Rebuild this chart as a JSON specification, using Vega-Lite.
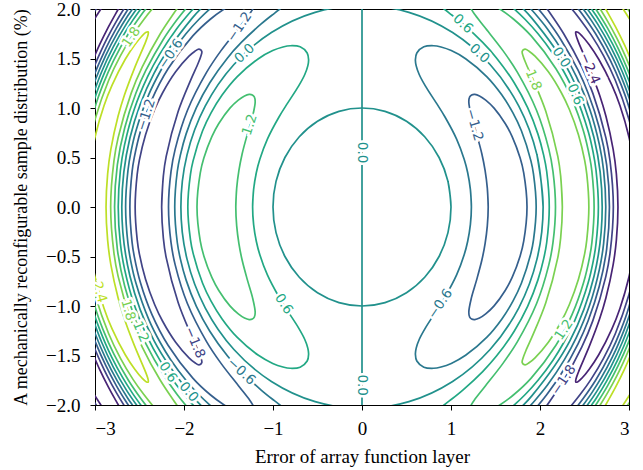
{
"$schema":"https://vega.github.io/schema/vega-lite/v6.json",
"width":534,"height":396,
"autosize":{"type":"none"},
"padding":{"left":95,"top":9,"right":14,"bottom":65},
"background":"white",
"config":{"view":{"stroke":"black","strokeWidth":1}},
"datasets":{
"loops":[
{"c":"z1","l":0,"x":1,"y":0},{"c":"z1","l":0,"x":0.966,"y":0.259},{"c":"z1","l":0,"x":0.866,"y":0.5},{"c":"z1","l":0,"x":0.707,"y":0.707},{"c":"z1","l":0,"x":0.5,"y":0.866},{"c":"z1","l":0,"x":0.259,"y":0.966},{"c":"z1","l":0,"x":0,"y":1},{"c":"z1","l":0,"x":-0.259,"y":0.966},{"c":"z1","l":0,"x":-0.5,"y":0.866},{"c":"z1","l":0,"x":-0.707,"y":0.707},{"c":"z1","l":0,"x":-0.866,"y":0.5},{"c":"z1","l":0,"x":-0.966,"y":0.259},{"c":"z1","l":0,"x":-1,"y":0},{"c":"z1","l":0,"x":-0.966,"y":-0.259},{"c":"z1","l":0,"x":-0.866,"y":-0.5},{"c":"z1","l":0,"x":-0.707,"y":-0.707},{"c":"z1","l":0,"x":-0.5,"y":-0.866},{"c":"z1","l":0,"x":-0.259,"y":-0.966},{"c":"z1","l":0,"x":0,"y":-1},{"c":"z1","l":0,"x":0.259,"y":-0.966},{"c":"z1","l":0,"x":0.5,"y":-0.866},{"c":"z1","l":0,"x":0.707,"y":-0.707},{"c":"z1","l":0,"x":0.866,"y":-0.5},{"c":"z1","l":0,"x":0.966,"y":-0.259},{"c":"z1","l":0,"x":1,"y":0},{"c":"z1","l":0,"x":0.966,"y":0.259},
{"c":"z2","l":0,"x":2.035,"y":0},{"c":"z2","l":0,"x":1.966,"y":0.527},{"c":"z2","l":0,"x":1.762,"y":1.018},{"c":"z2","l":0,"x":1.439,"y":1.439},{"c":"z2","l":0,"x":1.018,"y":1.762},{"c":"z2","l":0,"x":0.527,"y":1.966},{"c":"z2","l":0,"x":0,"y":2.035},{"c":"z2","l":0,"x":-0.527,"y":1.966},{"c":"z2","l":0,"x":-1.018,"y":1.762},{"c":"z2","l":0,"x":-1.439,"y":1.439},{"c":"z2","l":0,"x":-1.762,"y":1.018},{"c":"z2","l":0,"x":-1.966,"y":0.527},{"c":"z2","l":0,"x":-2.035,"y":0},{"c":"z2","l":0,"x":-1.966,"y":-0.527},{"c":"z2","l":0,"x":-1.762,"y":-1.018},{"c":"z2","l":0,"x":-1.439,"y":-1.439},{"c":"z2","l":0,"x":-1.018,"y":-1.762},{"c":"z2","l":0,"x":-0.527,"y":-1.966},{"c":"z2","l":0,"x":0,"y":-2.035},{"c":"z2","l":0,"x":0.527,"y":-1.966},{"c":"z2","l":0,"x":1.018,"y":-1.762},{"c":"z2","l":0,"x":1.439,"y":-1.439},{"c":"z2","l":0,"x":1.762,"y":-1.018},{"c":"z2","l":0,"x":1.966,"y":-0.527},{"c":"z2","l":0,"x":2.035,"y":0},{"c":"z2","l":0,"x":1.966,"y":0.527},
{"c":"A1R","l":-0.6,"x":1.229,"y":0},{"c":"A1R","l":-0.6,"x":1.218,"y":0.175},{"c":"A1R","l":-0.6,"x":1.187,"y":0.348},{"c":"A1R","l":-0.6,"x":1.148,"y":0.482},{"c":"A1R","l":-0.6,"x":1.063,"y":0.686},{"c":"A1R","l":-0.6,"x":0.931,"y":0.912},{"c":"A1R","l":-0.6,"x":0.836,"y":1.049},{"c":"A1R","l":-0.6,"x":0.713,"y":1.221},{"c":"A1R","l":-0.6,"x":0.644,"y":1.336},{"c":"A1R","l":-0.6,"x":0.609,"y":1.425},{"c":"A1R","l":-0.6,"x":0.6,"y":1.487},{"c":"A1R","l":-0.6,"x":0.616,"y":1.556},{"c":"A1R","l":-0.6,"x":0.695,"y":1.618},{"c":"A1R","l":-0.6,"x":0.805,"y":1.629},{"c":"A1R","l":-0.6,"x":0.888,"y":1.616},{"c":"A1R","l":-0.6,"x":1.003,"y":1.58},{"c":"A1R","l":-0.6,"x":1.164,"y":1.498},{"c":"A1R","l":-0.6,"x":1.404,"y":1.315},{"c":"A1R","l":-0.6,"x":1.572,"y":1.131},{"c":"A1R","l":-0.6,"x":1.696,"y":0.951},{"c":"A1R","l":-0.6,"x":1.791,"y":0.77},{"c":"A1R","l":-0.6,"x":1.898,"y":0.466},{"c":"A1R","l":-0.6,"x":1.927,"y":0.332},{"c":"A1R","l":-0.6,"x":1.957,"y":0},{"c":"A1R","l":-0.6,"x":1.927,"y":-0.332},{"c":"A1R","l":-0.6,"x":1.898,"y":-0.466},{"c":"A1R","l":-0.6,"x":1.791,"y":-0.77},{"c":"A1R","l":-0.6,"x":1.696,"y":-0.951},{"c":"A1R","l":-0.6,"x":1.572,"y":-1.131},{"c":"A1R","l":-0.6,"x":1.404,"y":-1.315},{"c":"A1R","l":-0.6,"x":1.164,"y":-1.498},{"c":"A1R","l":-0.6,"x":1.003,"y":-1.58},{"c":"A1R","l":-0.6,"x":0.888,"y":-1.616},{"c":"A1R","l":-0.6,"x":0.805,"y":-1.629},{"c":"A1R","l":-0.6,"x":0.695,"y":-1.618},{"c":"A1R","l":-0.6,"x":0.616,"y":-1.556},{"c":"A1R","l":-0.6,"x":0.6,"y":-1.487},{"c":"A1R","l":-0.6,"x":0.609,"y":-1.425},{"c":"A1R","l":-0.6,"x":0.644,"y":-1.336},{"c":"A1R","l":-0.6,"x":0.713,"y":-1.221},{"c":"A1R","l":-0.6,"x":0.836,"y":-1.049},{"c":"A1R","l":-0.6,"x":0.931,"y":-0.912},{"c":"A1R","l":-0.6,"x":1.063,"y":-0.686},{"c":"A1R","l":-0.6,"x":1.148,"y":-0.482},{"c":"A1R","l":-0.6,"x":1.187,"y":-0.348},{"c":"A1R","l":-0.6,"x":1.218,"y":-0.175},{"c":"A1R","l":-0.6,"x":1.229,"y":0},{"c":"A1R","l":-0.6,"x":1.218,"y":0.175},
{"c":"A1L","l":0.6,"x":-1.229,"y":0},{"c":"A1L","l":0.6,"x":-1.218,"y":0.175},{"c":"A1L","l":0.6,"x":-1.187,"y":0.348},{"c":"A1L","l":0.6,"x":-1.148,"y":0.482},{"c":"A1L","l":0.6,"x":-1.063,"y":0.686},{"c":"A1L","l":0.6,"x":-0.931,"y":0.912},{"c":"A1L","l":0.6,"x":-0.836,"y":1.049},{"c":"A1L","l":0.6,"x":-0.713,"y":1.221},{"c":"A1L","l":0.6,"x":-0.644,"y":1.336},{"c":"A1L","l":0.6,"x":-0.609,"y":1.425},{"c":"A1L","l":0.6,"x":-0.6,"y":1.487},{"c":"A1L","l":0.6,"x":-0.616,"y":1.556},{"c":"A1L","l":0.6,"x":-0.695,"y":1.618},{"c":"A1L","l":0.6,"x":-0.805,"y":1.629},{"c":"A1L","l":0.6,"x":-0.888,"y":1.616},{"c":"A1L","l":0.6,"x":-1.003,"y":1.58},{"c":"A1L","l":0.6,"x":-1.164,"y":1.498},{"c":"A1L","l":0.6,"x":-1.404,"y":1.315},{"c":"A1L","l":0.6,"x":-1.572,"y":1.131},{"c":"A1L","l":0.6,"x":-1.696,"y":0.951},{"c":"A1L","l":0.6,"x":-1.791,"y":0.77},{"c":"A1L","l":0.6,"x":-1.898,"y":0.466},{"c":"A1L","l":0.6,"x":-1.927,"y":0.332},{"c":"A1L","l":0.6,"x":-1.957,"y":0},{"c":"A1L","l":0.6,"x":-1.927,"y":-0.332},{"c":"A1L","l":0.6,"x":-1.898,"y":-0.466},{"c":"A1L","l":0.6,"x":-1.791,"y":-0.77},{"c":"A1L","l":0.6,"x":-1.696,"y":-0.951},{"c":"A1L","l":0.6,"x":-1.572,"y":-1.131},{"c":"A1L","l":0.6,"x":-1.404,"y":-1.315},{"c":"A1L","l":0.6,"x":-1.164,"y":-1.498},{"c":"A1L","l":0.6,"x":-1.003,"y":-1.58},{"c":"A1L","l":0.6,"x":-0.888,"y":-1.616},{"c":"A1L","l":0.6,"x":-0.805,"y":-1.629},{"c":"A1L","l":0.6,"x":-0.695,"y":-1.618},{"c":"A1L","l":0.6,"x":-0.616,"y":-1.556},{"c":"A1L","l":0.6,"x":-0.6,"y":-1.487},{"c":"A1L","l":0.6,"x":-0.609,"y":-1.425},{"c":"A1L","l":0.6,"x":-0.644,"y":-1.336},{"c":"A1L","l":0.6,"x":-0.713,"y":-1.221},{"c":"A1L","l":0.6,"x":-0.836,"y":-1.049},{"c":"A1L","l":0.6,"x":-0.931,"y":-0.912},{"c":"A1L","l":0.6,"x":-1.063,"y":-0.686},{"c":"A1L","l":0.6,"x":-1.148,"y":-0.482},{"c":"A1L","l":0.6,"x":-1.187,"y":-0.348},{"c":"A1L","l":0.6,"x":-1.218,"y":-0.175},{"c":"A1L","l":0.6,"x":-1.229,"y":0},{"c":"A1L","l":0.6,"x":-1.218,"y":0.175},
{"c":"A2R","l":-1.2,"x":1.418,"y":0},{"c":"A2R","l":-1.2,"x":1.408,"y":0.19},{"c":"A2R","l":-1.2,"x":1.383,"y":0.369},{"c":"A2R","l":-1.2,"x":1.347,"y":0.536},{"c":"A2R","l":-1.2,"x":1.288,"y":0.736},{"c":"A2R","l":-1.2,"x":1.23,"y":0.915},{"c":"A2R","l":-1.2,"x":1.2,"y":1.063},{"c":"A2R","l":-1.2,"x":1.21,"y":1.112},{"c":"A2R","l":-1.2,"x":1.232,"y":1.132},{"c":"A2R","l":-1.2,"x":1.268,"y":1.137},{"c":"A2R","l":-1.2,"x":1.32,"y":1.122},{"c":"A2R","l":-1.2,"x":1.39,"y":1.08},{"c":"A2R","l":-1.2,"x":1.484,"y":0.999},{"c":"A2R","l":-1.2,"x":1.609,"y":0.843},{"c":"A2R","l":-1.2,"x":1.687,"y":0.711},{"c":"A2R","l":-1.2,"x":1.777,"y":0.494},{"c":"A2R","l":-1.2,"x":1.817,"y":0.345},{"c":"A2R","l":-1.2,"x":1.854,"y":0},{"c":"A2R","l":-1.2,"x":1.817,"y":-0.345},{"c":"A2R","l":-1.2,"x":1.777,"y":-0.494},{"c":"A2R","l":-1.2,"x":1.687,"y":-0.711},{"c":"A2R","l":-1.2,"x":1.609,"y":-0.843},{"c":"A2R","l":-1.2,"x":1.484,"y":-0.999},{"c":"A2R","l":-1.2,"x":1.39,"y":-1.08},{"c":"A2R","l":-1.2,"x":1.32,"y":-1.122},{"c":"A2R","l":-1.2,"x":1.268,"y":-1.137},{"c":"A2R","l":-1.2,"x":1.232,"y":-1.132},{"c":"A2R","l":-1.2,"x":1.21,"y":-1.112},{"c":"A2R","l":-1.2,"x":1.2,"y":-1.063},{"c":"A2R","l":-1.2,"x":1.23,"y":-0.915},{"c":"A2R","l":-1.2,"x":1.288,"y":-0.736},{"c":"A2R","l":-1.2,"x":1.347,"y":-0.536},{"c":"A2R","l":-1.2,"x":1.383,"y":-0.369},{"c":"A2R","l":-1.2,"x":1.408,"y":-0.19},{"c":"A2R","l":-1.2,"x":1.418,"y":0},{"c":"A2R","l":-1.2,"x":1.408,"y":0.19},
{"c":"A2L","l":1.2,"x":-1.418,"y":0},{"c":"A2L","l":1.2,"x":-1.408,"y":0.19},{"c":"A2L","l":1.2,"x":-1.383,"y":0.369},{"c":"A2L","l":1.2,"x":-1.347,"y":0.536},{"c":"A2L","l":1.2,"x":-1.288,"y":0.736},{"c":"A2L","l":1.2,"x":-1.23,"y":0.915},{"c":"A2L","l":1.2,"x":-1.2,"y":1.063},{"c":"A2L","l":1.2,"x":-1.21,"y":1.112},{"c":"A2L","l":1.2,"x":-1.232,"y":1.132},{"c":"A2L","l":1.2,"x":-1.268,"y":1.137},{"c":"A2L","l":1.2,"x":-1.32,"y":1.122},{"c":"A2L","l":1.2,"x":-1.39,"y":1.08},{"c":"A2L","l":1.2,"x":-1.484,"y":0.999},{"c":"A2L","l":1.2,"x":-1.609,"y":0.843},{"c":"A2L","l":1.2,"x":-1.687,"y":0.711},{"c":"A2L","l":1.2,"x":-1.777,"y":0.494},{"c":"A2L","l":1.2,"x":-1.817,"y":0.345},{"c":"A2L","l":1.2,"x":-1.854,"y":0},{"c":"A2L","l":1.2,"x":-1.817,"y":-0.345},{"c":"A2L","l":1.2,"x":-1.777,"y":-0.494},{"c":"A2L","l":1.2,"x":-1.687,"y":-0.711},{"c":"A2L","l":1.2,"x":-1.609,"y":-0.843},{"c":"A2L","l":1.2,"x":-1.484,"y":-0.999},{"c":"A2L","l":1.2,"x":-1.39,"y":-1.08},{"c":"A2L","l":1.2,"x":-1.32,"y":-1.122},{"c":"A2L","l":1.2,"x":-1.268,"y":-1.137},{"c":"A2L","l":1.2,"x":-1.232,"y":-1.132},{"c":"A2L","l":1.2,"x":-1.21,"y":-1.112},{"c":"A2L","l":1.2,"x":-1.2,"y":-1.063},{"c":"A2L","l":1.2,"x":-1.23,"y":-0.915},{"c":"A2L","l":1.2,"x":-1.288,"y":-0.736},{"c":"A2L","l":1.2,"x":-1.347,"y":-0.536},{"c":"A2L","l":1.2,"x":-1.383,"y":-0.369},{"c":"A2L","l":1.2,"x":-1.408,"y":-0.19},{"c":"A2L","l":1.2,"x":-1.418,"y":0},{"c":"A2L","l":1.2,"x":-1.408,"y":0.19},
{"c":"B3R","l":1.8,"x":2.251,"y":0},{"c":"B3R","l":1.8,"x":2.232,"y":0.314},{"c":"B3R","l":1.8,"x":2.2,"y":0.511},{"c":"B3R","l":1.8,"x":2.065,"y":0.967},{"c":"B3R","l":1.8,"x":1.925,"y":1.282},{"c":"B3R","l":1.8,"x":1.841,"y":1.452},{"c":"B3R","l":1.8,"x":1.811,"y":1.523},{"c":"B3R","l":1.8,"x":1.8,"y":1.572},{"c":"B3R","l":1.8,"x":1.832,"y":1.595},{"c":"B3R","l":1.8,"x":1.877,"y":1.574},{"c":"B3R","l":1.8,"x":1.944,"y":1.523},{"c":"B3R","l":1.8,"x":2.096,"y":1.363},{"c":"B3R","l":1.8,"x":2.24,"y":1.154},{"c":"B3R","l":1.8,"x":2.329,"y":0.987},{"c":"B3R","l":1.8,"x":2.432,"y":0.73},{"c":"B3R","l":1.8,"x":2.502,"y":0.471},{"c":"B3R","l":1.8,"x":2.526,"y":0.329},{"c":"B3R","l":1.8,"x":2.549,"y":0},{"c":"B3R","l":1.8,"x":2.526,"y":-0.329},{"c":"B3R","l":1.8,"x":2.502,"y":-0.471},{"c":"B3R","l":1.8,"x":2.432,"y":-0.73},{"c":"B3R","l":1.8,"x":2.329,"y":-0.987},{"c":"B3R","l":1.8,"x":2.24,"y":-1.154},{"c":"B3R","l":1.8,"x":2.096,"y":-1.363},{"c":"B3R","l":1.8,"x":1.944,"y":-1.523},{"c":"B3R","l":1.8,"x":1.877,"y":-1.574},{"c":"B3R","l":1.8,"x":1.832,"y":-1.595},{"c":"B3R","l":1.8,"x":1.8,"y":-1.572},{"c":"B3R","l":1.8,"x":1.811,"y":-1.523},{"c":"B3R","l":1.8,"x":1.841,"y":-1.452},{"c":"B3R","l":1.8,"x":1.925,"y":-1.282},{"c":"B3R","l":1.8,"x":2.065,"y":-0.967},{"c":"B3R","l":1.8,"x":2.2,"y":-0.511},{"c":"B3R","l":1.8,"x":2.232,"y":-0.314},{"c":"B3R","l":1.8,"x":2.251,"y":0},{"c":"B3R","l":1.8,"x":2.232,"y":0.314},
{"c":"B3L","l":-1.8,"x":-2.251,"y":0},{"c":"B3L","l":-1.8,"x":-2.232,"y":0.314},{"c":"B3L","l":-1.8,"x":-2.2,"y":0.511},{"c":"B3L","l":-1.8,"x":-2.065,"y":0.967},{"c":"B3L","l":-1.8,"x":-1.925,"y":1.282},{"c":"B3L","l":-1.8,"x":-1.841,"y":1.452},{"c":"B3L","l":-1.8,"x":-1.811,"y":1.523},{"c":"B3L","l":-1.8,"x":-1.8,"y":1.572},{"c":"B3L","l":-1.8,"x":-1.832,"y":1.595},{"c":"B3L","l":-1.8,"x":-1.877,"y":1.574},{"c":"B3L","l":-1.8,"x":-1.944,"y":1.523},{"c":"B3L","l":-1.8,"x":-2.096,"y":1.363},{"c":"B3L","l":-1.8,"x":-2.24,"y":1.154},{"c":"B3L","l":-1.8,"x":-2.329,"y":0.987},{"c":"B3L","l":-1.8,"x":-2.432,"y":0.73},{"c":"B3L","l":-1.8,"x":-2.502,"y":0.471},{"c":"B3L","l":-1.8,"x":-2.526,"y":0.329},{"c":"B3L","l":-1.8,"x":-2.549,"y":0},{"c":"B3L","l":-1.8,"x":-2.526,"y":-0.329},{"c":"B3L","l":-1.8,"x":-2.502,"y":-0.471},{"c":"B3L","l":-1.8,"x":-2.432,"y":-0.73},{"c":"B3L","l":-1.8,"x":-2.329,"y":-0.987},{"c":"B3L","l":-1.8,"x":-2.24,"y":-1.154},{"c":"B3L","l":-1.8,"x":-2.096,"y":-1.363},{"c":"B3L","l":-1.8,"x":-1.944,"y":-1.523},{"c":"B3L","l":-1.8,"x":-1.877,"y":-1.574},{"c":"B3L","l":-1.8,"x":-1.832,"y":-1.595},{"c":"B3L","l":-1.8,"x":-1.8,"y":-1.572},{"c":"B3L","l":-1.8,"x":-1.811,"y":-1.523},{"c":"B3L","l":-1.8,"x":-1.841,"y":-1.452},{"c":"B3L","l":-1.8,"x":-1.925,"y":-1.282},{"c":"B3L","l":-1.8,"x":-2.065,"y":-0.967},{"c":"B3L","l":-1.8,"x":-2.2,"y":-0.511},{"c":"B3L","l":-1.8,"x":-2.232,"y":-0.314},{"c":"B3L","l":-1.8,"x":-2.251,"y":0},{"c":"B3L","l":-1.8,"x":-2.232,"y":0.314}
],
"paths":[
{"c":"z0","l":0,"x":0,"y":-2.1},{"c":"z0","l":0,"x":0,"y":2.1},
{"c":"z3R","l":0,"x":1.735,"y":2.067},{"c":"z3R","l":0,"x":1.908,"y":1.908},{"c":"z3R","l":0,"x":2.337,"y":1.35},{"c":"z3R","l":0,"x":2.607,"y":0.699},{"c":"z3R","l":0,"x":2.699,"y":0},{"c":"z3R","l":0,"x":2.607,"y":-0.699},{"c":"z3R","l":0,"x":2.337,"y":-1.35},{"c":"z3R","l":0,"x":1.908,"y":-1.908},{"c":"z3R","l":0,"x":1.735,"y":-2.067},
{"c":"z3L","l":0,"x":-1.735,"y":2.067},{"c":"z3L","l":0,"x":-1.908,"y":1.908},{"c":"z3L","l":0,"x":-2.337,"y":1.35},{"c":"z3L","l":0,"x":-2.607,"y":0.699},{"c":"z3L","l":0,"x":-2.699,"y":0},{"c":"z3L","l":0,"x":-2.607,"y":-0.699},{"c":"z3L","l":0,"x":-2.337,"y":-1.35},{"c":"z3L","l":0,"x":-1.908,"y":-1.908},{"c":"z3L","l":0,"x":-1.735,"y":-2.067},
{"c":"z4RT","l":0,"x":2.473,"y":2.075},{"c":"z4RT","l":0,"x":2.645,"y":1.852},{"c":"z4RT","l":0,"x":2.796,"y":1.614},{"c":"z4RT","l":0,"x":2.926,"y":1.364},{"c":"z4RT","l":0,"x":3.034,"y":1.104},
{"c":"z4RB","l":0,"x":2.473,"y":-2.075},{"c":"z4RB","l":0,"x":2.645,"y":-1.852},{"c":"z4RB","l":0,"x":2.796,"y":-1.614},{"c":"z4RB","l":0,"x":2.926,"y":-1.364},{"c":"z4RB","l":0,"x":3.034,"y":-1.104},
{"c":"z4LT","l":0,"x":-2.473,"y":2.075},{"c":"z4LT","l":0,"x":-2.645,"y":1.852},{"c":"z4LT","l":0,"x":-2.796,"y":1.614},{"c":"z4LT","l":0,"x":-2.926,"y":1.364},{"c":"z4LT","l":0,"x":-3.034,"y":1.104},
{"c":"z4LB","l":0,"x":-2.473,"y":-2.075},{"c":"z4LB","l":0,"x":-2.645,"y":-1.852},{"c":"z4LB","l":0,"x":-2.796,"y":-1.614},{"c":"z4LB","l":0,"x":-2.926,"y":-1.364},{"c":"z4LB","l":0,"x":-3.034,"y":-1.104},
{"c":"B1aR","l":0.6,"x":0.873,"y":-2.034},{"c":"B1aR","l":0.6,"x":0.981,"y":-1.959},{"c":"B1aR","l":0.6,"x":1.133,"y":-1.849},{"c":"B1aR","l":0.6,"x":1.356,"y":-1.662},{"c":"B1aR","l":0.6,"x":1.511,"y":-1.506},{"c":"B1aR","l":0.6,"x":1.71,"y":-1.255},{"c":"B1aR","l":0.6,"x":1.861,"y":-1.004},{"c":"B1aR","l":0.6,"x":1.977,"y":-0.736},{"c":"B1aR","l":0.6,"x":2.041,"y":-0.524},{"c":"B1aR","l":0.6,"x":2.075,"y":-0.361},{"c":"B1aR","l":0.6,"x":2.104,"y":0},{"c":"B1aR","l":0.6,"x":2.075,"y":0.361},{"c":"B1aR","l":0.6,"x":2.041,"y":0.524},{"c":"B1aR","l":0.6,"x":1.977,"y":0.736},{"c":"B1aR","l":0.6,"x":1.861,"y":1.004},{"c":"B1aR","l":0.6,"x":1.71,"y":1.255},{"c":"B1aR","l":0.6,"x":1.511,"y":1.506},{"c":"B1aR","l":0.6,"x":1.356,"y":1.662},{"c":"B1aR","l":0.6,"x":1.133,"y":1.849},{"c":"B1aR","l":0.6,"x":0.981,"y":1.959},{"c":"B1aR","l":0.6,"x":0.873,"y":2.034},
{"c":"B1aL","l":-0.6,"x":-0.873,"y":-2.034},{"c":"B1aL","l":-0.6,"x":-0.981,"y":-1.959},{"c":"B1aL","l":-0.6,"x":-1.133,"y":-1.849},{"c":"B1aL","l":-0.6,"x":-1.356,"y":-1.662},{"c":"B1aL","l":-0.6,"x":-1.511,"y":-1.506},{"c":"B1aL","l":-0.6,"x":-1.71,"y":-1.255},{"c":"B1aL","l":-0.6,"x":-1.861,"y":-1.004},{"c":"B1aL","l":-0.6,"x":-1.977,"y":-0.736},{"c":"B1aL","l":-0.6,"x":-2.041,"y":-0.524},{"c":"B1aL","l":-0.6,"x":-2.075,"y":-0.361},{"c":"B1aL","l":-0.6,"x":-2.104,"y":0},{"c":"B1aL","l":-0.6,"x":-2.075,"y":0.361},{"c":"B1aL","l":-0.6,"x":-2.041,"y":0.524},{"c":"B1aL","l":-0.6,"x":-1.977,"y":0.736},{"c":"B1aL","l":-0.6,"x":-1.861,"y":1.004},{"c":"B1aL","l":-0.6,"x":-1.71,"y":1.255},{"c":"B1aL","l":-0.6,"x":-1.511,"y":1.506},{"c":"B1aL","l":-0.6,"x":-1.356,"y":1.662},{"c":"B1aL","l":-0.6,"x":-1.133,"y":1.849},{"c":"B1aL","l":-0.6,"x":-0.981,"y":1.959},{"c":"B1aL","l":-0.6,"x":-0.873,"y":2.034},
{"c":"B1bR","l":0.6,"x":1.605,"y":-2.08},{"c":"B1bR","l":0.6,"x":1.689,"y":-2.017},{"c":"B1bR","l":0.6,"x":1.834,"y":-1.894},{"c":"B1bR","l":0.6,"x":1.978,"y":-1.75},{"c":"B1bR","l":0.6,"x":2.148,"y":-1.545},{"c":"B1bR","l":0.6,"x":2.264,"y":-1.374},{"c":"B1bR","l":0.6,"x":2.395,"y":-1.137},{"c":"B1bR","l":0.6,"x":2.542,"y":-0.762},{"c":"B1bR","l":0.6,"x":2.596,"y":-0.556},{"c":"B1bR","l":0.6,"x":2.629,"y":-0.374},{"c":"B1bR","l":0.6,"x":2.656,"y":0},{"c":"B1bR","l":0.6,"x":2.629,"y":0.374},{"c":"B1bR","l":0.6,"x":2.596,"y":0.556},{"c":"B1bR","l":0.6,"x":2.542,"y":0.762},{"c":"B1bR","l":0.6,"x":2.395,"y":1.137},{"c":"B1bR","l":0.6,"x":2.264,"y":1.374},{"c":"B1bR","l":0.6,"x":2.148,"y":1.545},{"c":"B1bR","l":0.6,"x":1.978,"y":1.75},{"c":"B1bR","l":0.6,"x":1.834,"y":1.894},{"c":"B1bR","l":0.6,"x":1.689,"y":2.017},{"c":"B1bR","l":0.6,"x":1.605,"y":2.08},
{"c":"B1bL","l":-0.6,"x":-1.605,"y":-2.08},{"c":"B1bL","l":-0.6,"x":-1.689,"y":-2.017},{"c":"B1bL","l":-0.6,"x":-1.834,"y":-1.894},{"c":"B1bL","l":-0.6,"x":-1.978,"y":-1.75},{"c":"B1bL","l":-0.6,"x":-2.148,"y":-1.545},{"c":"B1bL","l":-0.6,"x":-2.264,"y":-1.374},{"c":"B1bL","l":-0.6,"x":-2.395,"y":-1.137},{"c":"B1bL","l":-0.6,"x":-2.542,"y":-0.762},{"c":"B1bL","l":-0.6,"x":-2.596,"y":-0.556},{"c":"B1bL","l":-0.6,"x":-2.629,"y":-0.374},{"c":"B1bL","l":-0.6,"x":-2.656,"y":0},{"c":"B1bL","l":-0.6,"x":-2.629,"y":0.374},{"c":"B1bL","l":-0.6,"x":-2.596,"y":0.556},{"c":"B1bL","l":-0.6,"x":-2.542,"y":0.762},{"c":"B1bL","l":-0.6,"x":-2.395,"y":1.137},{"c":"B1bL","l":-0.6,"x":-2.264,"y":1.374},{"c":"B1bL","l":-0.6,"x":-2.148,"y":1.545},{"c":"B1bL","l":-0.6,"x":-1.978,"y":1.75},{"c":"B1bL","l":-0.6,"x":-1.834,"y":1.894},{"c":"B1bL","l":-0.6,"x":-1.689,"y":2.017},{"c":"B1bL","l":-0.6,"x":-1.605,"y":2.08},
{"c":"B2aR","l":1.2,"x":1.208,"y":-2.035},{"c":"B2aR","l":1.2,"x":1.228,"y":-1.998},{"c":"B2aR","l":1.2,"x":1.261,"y":-1.952},{"c":"B2aR","l":1.2,"x":1.377,"y":-1.818},{"c":"B2aR","l":1.2,"x":1.586,"y":-1.577},{"c":"B2aR","l":1.2,"x":1.745,"y":-1.362},{"c":"B2aR","l":1.2,"x":1.962,"y":-0.975},{"c":"B2aR","l":1.2,"x":2.099,"y":-0.585},{"c":"B2aR","l":1.2,"x":2.146,"y":-0.358},{"c":"B2aR","l":1.2,"x":2.174,"y":0},{"c":"B2aR","l":1.2,"x":2.146,"y":0.358},{"c":"B2aR","l":1.2,"x":2.099,"y":0.585},{"c":"B2aR","l":1.2,"x":1.962,"y":0.975},{"c":"B2aR","l":1.2,"x":1.745,"y":1.362},{"c":"B2aR","l":1.2,"x":1.586,"y":1.577},{"c":"B2aR","l":1.2,"x":1.377,"y":1.818},{"c":"B2aR","l":1.2,"x":1.261,"y":1.952},{"c":"B2aR","l":1.2,"x":1.228,"y":1.998},{"c":"B2aR","l":1.2,"x":1.208,"y":2.035},
{"c":"B2aL","l":-1.2,"x":-1.208,"y":-2.035},{"c":"B2aL","l":-1.2,"x":-1.228,"y":-1.998},{"c":"B2aL","l":-1.2,"x":-1.261,"y":-1.952},{"c":"B2aL","l":-1.2,"x":-1.377,"y":-1.818},{"c":"B2aL","l":-1.2,"x":-1.586,"y":-1.577},{"c":"B2aL","l":-1.2,"x":-1.745,"y":-1.362},{"c":"B2aL","l":-1.2,"x":-1.962,"y":-0.975},{"c":"B2aL","l":-1.2,"x":-2.099,"y":-0.585},{"c":"B2aL","l":-1.2,"x":-2.146,"y":-0.358},{"c":"B2aL","l":-1.2,"x":-2.174,"y":0},{"c":"B2aL","l":-1.2,"x":-2.146,"y":0.358},{"c":"B2aL","l":-1.2,"x":-2.099,"y":0.585},{"c":"B2aL","l":-1.2,"x":-1.962,"y":0.975},{"c":"B2aL","l":-1.2,"x":-1.745,"y":1.362},{"c":"B2aL","l":-1.2,"x":-1.586,"y":1.577},{"c":"B2aL","l":-1.2,"x":-1.377,"y":1.818},{"c":"B2aL","l":-1.2,"x":-1.261,"y":1.952},{"c":"B2aL","l":-1.2,"x":-1.228,"y":1.998},{"c":"B2aL","l":-1.2,"x":-1.208,"y":2.035},
{"c":"B2bR","l":1.2,"x":1.442,"y":-2.055},{"c":"B2bR","l":1.2,"x":1.553,"y":-1.997},{"c":"B2bR","l":1.2,"x":1.701,"y":-1.899},{"c":"B2bR","l":1.2,"x":1.901,"y":-1.728},{"c":"B2bR","l":1.2,"x":2.179,"y":-1.397},{"c":"B2bR","l":1.2,"x":2.361,"y":-1.085},{"c":"B2bR","l":1.2,"x":2.489,"y":-0.766},{"c":"B2bR","l":1.2,"x":2.559,"y":-0.498},{"c":"B2bR","l":1.2,"x":2.583,"y":-0.359},{"c":"B2bR","l":1.2,"x":2.608,"y":0},{"c":"B2bR","l":1.2,"x":2.583,"y":0.359},{"c":"B2bR","l":1.2,"x":2.559,"y":0.498},{"c":"B2bR","l":1.2,"x":2.489,"y":0.766},{"c":"B2bR","l":1.2,"x":2.361,"y":1.085},{"c":"B2bR","l":1.2,"x":2.179,"y":1.397},{"c":"B2bR","l":1.2,"x":1.901,"y":1.728},{"c":"B2bR","l":1.2,"x":1.701,"y":1.899},{"c":"B2bR","l":1.2,"x":1.553,"y":1.997},{"c":"B2bR","l":1.2,"x":1.442,"y":2.055},
{"c":"B2bL","l":-1.2,"x":-1.442,"y":-2.055},{"c":"B2bL","l":-1.2,"x":-1.553,"y":-1.997},{"c":"B2bL","l":-1.2,"x":-1.701,"y":-1.899},{"c":"B2bL","l":-1.2,"x":-1.901,"y":-1.728},{"c":"B2bL","l":-1.2,"x":-2.179,"y":-1.397},{"c":"B2bL","l":-1.2,"x":-2.361,"y":-1.085},{"c":"B2bL","l":-1.2,"x":-2.489,"y":-0.766},{"c":"B2bL","l":-1.2,"x":-2.559,"y":-0.498},{"c":"B2bL","l":-1.2,"x":-2.583,"y":-0.359},{"c":"B2bL","l":-1.2,"x":-2.608,"y":0},{"c":"B2bL","l":-1.2,"x":-2.583,"y":0.359},{"c":"B2bL","l":-1.2,"x":-2.559,"y":0.498},{"c":"B2bL","l":-1.2,"x":-2.489,"y":0.766},{"c":"B2bL","l":-1.2,"x":-2.361,"y":1.085},{"c":"B2bL","l":-1.2,"x":-2.179,"y":1.397},{"c":"B2bL","l":-1.2,"x":-1.901,"y":1.728},{"c":"B2bL","l":-1.2,"x":-1.701,"y":1.899},{"c":"B2bL","l":-1.2,"x":-1.553,"y":1.997},{"c":"B2bL","l":-1.2,"x":-1.442,"y":2.055},
{"c":"C1aR","l":-0.6,"x":1.869,"y":-2.029},{"c":"C1aR","l":-0.6,"x":1.926,"y":-1.972},{"c":"C1aR","l":-0.6,"x":2.086,"y":-1.796},{"c":"C1aR","l":-0.6,"x":2.276,"y":-1.539},{"c":"C1aR","l":-0.6,"x":2.409,"y":-1.317},{"c":"C1aR","l":-0.6,"x":2.558,"y":-0.99},{"c":"C1aR","l":-0.6,"x":2.668,"y":-0.627},{"c":"C1aR","l":-0.6,"x":2.715,"y":-0.367},{"c":"C1aR","l":-0.6,"x":2.739,"y":0},{"c":"C1aR","l":-0.6,"x":2.715,"y":0.367},{"c":"C1aR","l":-0.6,"x":2.668,"y":0.627},{"c":"C1aR","l":-0.6,"x":2.558,"y":0.99},{"c":"C1aR","l":-0.6,"x":2.409,"y":1.317},{"c":"C1aR","l":-0.6,"x":2.276,"y":1.539},{"c":"C1aR","l":-0.6,"x":2.086,"y":1.796},{"c":"C1aR","l":-0.6,"x":1.926,"y":1.972},{"c":"C1aR","l":-0.6,"x":1.869,"y":2.029},
{"c":"C1aL","l":0.6,"x":-1.869,"y":-2.029},{"c":"C1aL","l":0.6,"x":-1.926,"y":-1.972},{"c":"C1aL","l":0.6,"x":-2.086,"y":-1.796},{"c":"C1aL","l":0.6,"x":-2.276,"y":-1.539},{"c":"C1aL","l":0.6,"x":-2.409,"y":-1.317},{"c":"C1aL","l":0.6,"x":-2.558,"y":-0.99},{"c":"C1aL","l":0.6,"x":-2.668,"y":-0.627},{"c":"C1aL","l":0.6,"x":-2.715,"y":-0.367},{"c":"C1aL","l":0.6,"x":-2.739,"y":0},{"c":"C1aL","l":0.6,"x":-2.715,"y":0.367},{"c":"C1aL","l":0.6,"x":-2.668,"y":0.627},{"c":"C1aL","l":0.6,"x":-2.558,"y":0.99},{"c":"C1aL","l":0.6,"x":-2.409,"y":1.317},{"c":"C1aL","l":0.6,"x":-2.276,"y":1.539},{"c":"C1aL","l":0.6,"x":-2.086,"y":1.796},{"c":"C1aL","l":0.6,"x":-1.926,"y":1.972},{"c":"C1aL","l":0.6,"x":-1.869,"y":2.029},
{"c":"C1bRT","l":-0.6,"x":2.475,"y":2.013},{"c":"C1bRT","l":-0.6,"x":2.58,"y":1.88},{"c":"C1bRT","l":-0.6,"x":2.692,"y":1.719},{"c":"C1bRT","l":-0.6,"x":2.814,"y":1.513},{"c":"C1bRT","l":-0.6,"x":2.88,"y":1.385},{"c":"C1bRT","l":-0.6,"x":3.0,"y":1.106},{"c":"C1bRT","l":-0.6,"x":3.099,"y":0.791},
{"c":"C1bRB","l":-0.6,"x":2.475,"y":-2.013},{"c":"C1bRB","l":-0.6,"x":2.58,"y":-1.88},{"c":"C1bRB","l":-0.6,"x":2.692,"y":-1.719},{"c":"C1bRB","l":-0.6,"x":2.814,"y":-1.513},{"c":"C1bRB","l":-0.6,"x":2.88,"y":-1.385},{"c":"C1bRB","l":-0.6,"x":3.0,"y":-1.106},{"c":"C1bRB","l":-0.6,"x":3.099,"y":-0.791},
{"c":"C1bLT","l":0.6,"x":-2.475,"y":2.013},{"c":"C1bLT","l":0.6,"x":-2.58,"y":1.88},{"c":"C1bLT","l":0.6,"x":-2.692,"y":1.719},{"c":"C1bLT","l":0.6,"x":-2.814,"y":1.513},{"c":"C1bLT","l":0.6,"x":-2.88,"y":1.385},{"c":"C1bLT","l":0.6,"x":-3.0,"y":1.106},{"c":"C1bLT","l":0.6,"x":-3.099,"y":0.791},
{"c":"C1bLB","l":0.6,"x":-2.475,"y":-2.013},{"c":"C1bLB","l":0.6,"x":-2.58,"y":-1.88},{"c":"C1bLB","l":0.6,"x":-2.692,"y":-1.719},{"c":"C1bLB","l":0.6,"x":-2.814,"y":-1.513},{"c":"C1bLB","l":0.6,"x":-2.88,"y":-1.385},{"c":"C1bLB","l":0.6,"x":-3.0,"y":-1.106},{"c":"C1bLB","l":0.6,"x":-3.099,"y":-0.791},
{"c":"C2aR","l":-1.2,"x":1.94,"y":-2.046},{"c":"C2aR","l":-1.2,"x":2.075,"y":-1.896},{"c":"C2aR","l":-1.2,"x":2.235,"y":-1.69},{"c":"C2aR","l":-1.2,"x":2.429,"y":-1.379},{"c":"C2aR","l":-1.2,"x":2.541,"y":-1.149},{"c":"C2aR","l":-1.2,"x":2.666,"y":-0.801},{"c":"C2aR","l":-1.2,"x":2.749,"y":-0.425},{"c":"C2aR","l":-1.2,"x":2.78,"y":0},{"c":"C2aR","l":-1.2,"x":2.749,"y":0.425},{"c":"C2aR","l":-1.2,"x":2.666,"y":0.801},{"c":"C2aR","l":-1.2,"x":2.541,"y":1.149},{"c":"C2aR","l":-1.2,"x":2.429,"y":1.379},{"c":"C2aR","l":-1.2,"x":2.235,"y":1.69},{"c":"C2aR","l":-1.2,"x":2.075,"y":1.896},{"c":"C2aR","l":-1.2,"x":1.94,"y":2.046},
{"c":"C2aL","l":1.2,"x":-1.94,"y":-2.046},{"c":"C2aL","l":1.2,"x":-2.075,"y":-1.896},{"c":"C2aL","l":1.2,"x":-2.235,"y":-1.69},{"c":"C2aL","l":1.2,"x":-2.429,"y":-1.379},{"c":"C2aL","l":1.2,"x":-2.541,"y":-1.149},{"c":"C2aL","l":1.2,"x":-2.666,"y":-0.801},{"c":"C2aL","l":1.2,"x":-2.749,"y":-0.425},{"c":"C2aL","l":1.2,"x":-2.78,"y":0},{"c":"C2aL","l":1.2,"x":-2.749,"y":0.425},{"c":"C2aL","l":1.2,"x":-2.666,"y":0.801},{"c":"C2aL","l":1.2,"x":-2.541,"y":1.149},{"c":"C2aL","l":1.2,"x":-2.429,"y":1.379},{"c":"C2aL","l":1.2,"x":-2.235,"y":1.69},{"c":"C2aL","l":1.2,"x":-2.075,"y":1.896},{"c":"C2aL","l":1.2,"x":-1.94,"y":2.046},
{"c":"C2bRT","l":-1.2,"x":2.395,"y":2.04},{"c":"C2bRT","l":-1.2,"x":2.481,"y":1.94},{"c":"C2bRT","l":-1.2,"x":2.625,"y":1.75},{"c":"C2bRT","l":-1.2,"x":2.789,"y":1.484},{"c":"C2bRT","l":-1.2,"x":2.912,"y":1.233},{"c":"C2bRT","l":-1.2,"x":3.0,"y":1.007},{"c":"C2bRT","l":-1.2,"x":3.12,"y":0.543},
{"c":"C2bRB","l":-1.2,"x":2.395,"y":-2.04},{"c":"C2bRB","l":-1.2,"x":2.481,"y":-1.94},{"c":"C2bRB","l":-1.2,"x":2.625,"y":-1.75},{"c":"C2bRB","l":-1.2,"x":2.789,"y":-1.484},{"c":"C2bRB","l":-1.2,"x":2.912,"y":-1.233},{"c":"C2bRB","l":-1.2,"x":3.0,"y":-1.007},{"c":"C2bRB","l":-1.2,"x":3.12,"y":-0.543},
{"c":"C2bLT","l":1.2,"x":-2.395,"y":2.04},{"c":"C2bLT","l":1.2,"x":-2.481,"y":1.94},{"c":"C2bLT","l":1.2,"x":-2.625,"y":1.75},{"c":"C2bLT","l":1.2,"x":-2.789,"y":1.484},{"c":"C2bLT","l":1.2,"x":-2.912,"y":1.233},{"c":"C2bLT","l":1.2,"x":-3.0,"y":1.007},{"c":"C2bLT","l":1.2,"x":-3.12,"y":0.543},
{"c":"C2bLB","l":1.2,"x":-2.395,"y":-2.04},{"c":"C2bLB","l":1.2,"x":-2.481,"y":-1.94},{"c":"C2bLB","l":1.2,"x":-2.625,"y":-1.75},{"c":"C2bLB","l":1.2,"x":-2.789,"y":-1.484},{"c":"C2bLB","l":1.2,"x":-2.912,"y":-1.233},{"c":"C2bLB","l":1.2,"x":-3.0,"y":-1.007},{"c":"C2bLB","l":1.2,"x":-3.12,"y":-0.543},
{"c":"C3aR","l":-1.8,"x":2.056,"y":-2.031},{"c":"C3aR","l":-1.8,"x":2.116,"y":-1.955},{"c":"C3aR","l":-1.8,"x":2.268,"y":-1.748},{"c":"C3aR","l":-1.8,"x":2.469,"y":-1.415},{"c":"C3aR","l":-1.8,"x":2.594,"y":-1.148},{"c":"C3aR","l":-1.8,"x":2.74,"y":-0.701},{"c":"C3aR","l":-1.8,"x":2.787,"y":-0.465},{"c":"C3aR","l":-1.8,"x":2.824,"y":0},{"c":"C3aR","l":-1.8,"x":2.787,"y":0.465},{"c":"C3aR","l":-1.8,"x":2.74,"y":0.701},{"c":"C3aR","l":-1.8,"x":2.594,"y":1.148},{"c":"C3aR","l":-1.8,"x":2.469,"y":1.415},{"c":"C3aR","l":-1.8,"x":2.268,"y":1.748},{"c":"C3aR","l":-1.8,"x":2.116,"y":1.955},{"c":"C3aR","l":-1.8,"x":2.056,"y":2.031},
{"c":"C3aL","l":1.8,"x":-2.056,"y":-2.031},{"c":"C3aL","l":1.8,"x":-2.116,"y":-1.955},{"c":"C3aL","l":1.8,"x":-2.268,"y":-1.748},{"c":"C3aL","l":1.8,"x":-2.469,"y":-1.415},{"c":"C3aL","l":1.8,"x":-2.594,"y":-1.148},{"c":"C3aL","l":1.8,"x":-2.74,"y":-0.701},{"c":"C3aL","l":1.8,"x":-2.787,"y":-0.465},{"c":"C3aL","l":1.8,"x":-2.824,"y":0},{"c":"C3aL","l":1.8,"x":-2.787,"y":0.465},{"c":"C3aL","l":1.8,"x":-2.74,"y":0.701},{"c":"C3aL","l":1.8,"x":-2.594,"y":1.148},{"c":"C3aL","l":1.8,"x":-2.469,"y":1.415},{"c":"C3aL","l":1.8,"x":-2.268,"y":1.748},{"c":"C3aL","l":1.8,"x":-2.116,"y":1.955},{"c":"C3aL","l":1.8,"x":-2.056,"y":2.031},
{"c":"C3bRT","l":-1.8,"x":2.254,"y":2.1},{"c":"C3bRT","l":-1.8,"x":2.346,"y":2.012},{"c":"C3bRT","l":-1.8,"x":2.451,"y":1.895},{"c":"C3bRT","l":-1.8,"x":2.573,"y":1.741},{"c":"C3bRT","l":-1.8,"x":2.715,"y":1.526},{"c":"C3bRT","l":-1.8,"x":2.846,"y":1.28},{"c":"C3bRT","l":-1.8,"x":3.0,"y":0.884},{"c":"C3bRT","l":-1.8,"x":3.078,"y":0.574},
{"c":"C3bRB","l":-1.8,"x":2.254,"y":-2.1},{"c":"C3bRB","l":-1.8,"x":2.346,"y":-2.012},{"c":"C3bRB","l":-1.8,"x":2.451,"y":-1.895},{"c":"C3bRB","l":-1.8,"x":2.573,"y":-1.741},{"c":"C3bRB","l":-1.8,"x":2.715,"y":-1.526},{"c":"C3bRB","l":-1.8,"x":2.846,"y":-1.28},{"c":"C3bRB","l":-1.8,"x":3.0,"y":-0.884},{"c":"C3bRB","l":-1.8,"x":3.078,"y":-0.574},
{"c":"C3bLT","l":1.8,"x":-2.254,"y":2.1},{"c":"C3bLT","l":1.8,"x":-2.346,"y":2.012},{"c":"C3bLT","l":1.8,"x":-2.451,"y":1.895},{"c":"C3bLT","l":1.8,"x":-2.573,"y":1.741},{"c":"C3bLT","l":1.8,"x":-2.715,"y":1.526},{"c":"C3bLT","l":1.8,"x":-2.846,"y":1.28},{"c":"C3bLT","l":1.8,"x":-3.0,"y":0.884},{"c":"C3bLT","l":1.8,"x":-3.078,"y":0.574},
{"c":"C3bLB","l":1.8,"x":-2.254,"y":-2.1},{"c":"C3bLB","l":1.8,"x":-2.346,"y":-2.012},{"c":"C3bLB","l":1.8,"x":-2.451,"y":-1.895},{"c":"C3bLB","l":1.8,"x":-2.573,"y":-1.741},{"c":"C3bLB","l":1.8,"x":-2.715,"y":-1.526},{"c":"C3bLB","l":1.8,"x":-2.846,"y":-1.28},{"c":"C3bLB","l":1.8,"x":-3.0,"y":-0.884},{"c":"C3bLB","l":1.8,"x":-3.078,"y":-0.574},
{"c":"C4R","l":-2.4,"x":3.052,"y":-0.451},{"c":"C4R","l":-2.4,"x":3.0,"y":-0.705},{"c":"C4R","l":-2.4,"x":2.899,"y":-1.022},{"c":"C4R","l":-2.4,"x":2.808,"y":-1.231},{"c":"C4R","l":-2.4,"x":2.66,"y":-1.492},{"c":"C4R","l":-2.4,"x":2.551,"y":-1.641},{"c":"C4R","l":-2.4,"x":2.475,"y":-1.725},{"c":"C4R","l":-2.4,"x":2.426,"y":-1.765},{"c":"C4R","l":-2.4,"x":2.402,"y":-1.769},{"c":"C4R","l":-2.4,"x":2.404,"y":-1.739},{"c":"C4R","l":-2.4,"x":2.429,"y":-1.673},{"c":"C4R","l":-2.4,"x":2.558,"y":-1.398},{"c":"C4R","l":-2.4,"x":2.671,"y":-1.126},{"c":"C4R","l":-2.4,"x":2.741,"y":-0.916},{"c":"C4R","l":-2.4,"x":2.822,"y":-0.582},{"c":"C4R","l":-2.4,"x":2.858,"y":-0.335},{"c":"C4R","l":-2.4,"x":2.876,"y":0},{"c":"C4R","l":-2.4,"x":2.858,"y":0.335},{"c":"C4R","l":-2.4,"x":2.822,"y":0.582},{"c":"C4R","l":-2.4,"x":2.741,"y":0.916},{"c":"C4R","l":-2.4,"x":2.671,"y":1.126},{"c":"C4R","l":-2.4,"x":2.558,"y":1.398},{"c":"C4R","l":-2.4,"x":2.429,"y":1.673},{"c":"C4R","l":-2.4,"x":2.404,"y":1.739},{"c":"C4R","l":-2.4,"x":2.402,"y":1.769},{"c":"C4R","l":-2.4,"x":2.426,"y":1.765},{"c":"C4R","l":-2.4,"x":2.475,"y":1.725},{"c":"C4R","l":-2.4,"x":2.551,"y":1.641},{"c":"C4R","l":-2.4,"x":2.66,"y":1.492},{"c":"C4R","l":-2.4,"x":2.808,"y":1.231},{"c":"C4R","l":-2.4,"x":2.899,"y":1.022},{"c":"C4R","l":-2.4,"x":3.0,"y":0.705},{"c":"C4R","l":-2.4,"x":3.052,"y":0.451},
{"c":"C4L","l":2.4,"x":-3.052,"y":-0.451},{"c":"C4L","l":2.4,"x":-3.0,"y":-0.705},{"c":"C4L","l":2.4,"x":-2.899,"y":-1.022},{"c":"C4L","l":2.4,"x":-2.808,"y":-1.231},{"c":"C4L","l":2.4,"x":-2.66,"y":-1.492},{"c":"C4L","l":2.4,"x":-2.551,"y":-1.641},{"c":"C4L","l":2.4,"x":-2.475,"y":-1.725},{"c":"C4L","l":2.4,"x":-2.426,"y":-1.765},{"c":"C4L","l":2.4,"x":-2.402,"y":-1.769},{"c":"C4L","l":2.4,"x":-2.404,"y":-1.739},{"c":"C4L","l":2.4,"x":-2.429,"y":-1.673},{"c":"C4L","l":2.4,"x":-2.558,"y":-1.398},{"c":"C4L","l":2.4,"x":-2.671,"y":-1.126},{"c":"C4L","l":2.4,"x":-2.741,"y":-0.916},{"c":"C4L","l":2.4,"x":-2.822,"y":-0.582},{"c":"C4L","l":2.4,"x":-2.858,"y":-0.335},{"c":"C4L","l":2.4,"x":-2.876,"y":0},{"c":"C4L","l":2.4,"x":-2.858,"y":0.335},{"c":"C4L","l":2.4,"x":-2.822,"y":0.582},{"c":"C4L","l":2.4,"x":-2.741,"y":0.916},{"c":"C4L","l":2.4,"x":-2.671,"y":1.126},{"c":"C4L","l":2.4,"x":-2.558,"y":1.398},{"c":"C4L","l":2.4,"x":-2.429,"y":1.673},{"c":"C4L","l":2.4,"x":-2.404,"y":1.739},{"c":"C4L","l":2.4,"x":-2.402,"y":1.769},{"c":"C4L","l":2.4,"x":-2.426,"y":1.765},{"c":"C4L","l":2.4,"x":-2.475,"y":1.725},{"c":"C4L","l":2.4,"x":-2.551,"y":1.641},{"c":"C4L","l":2.4,"x":-2.66,"y":1.492},{"c":"C4L","l":2.4,"x":-2.808,"y":1.231},{"c":"C4L","l":2.4,"x":-2.899,"y":1.022},{"c":"C4L","l":2.4,"x":-3.0,"y":0.705},{"c":"C4L","l":2.4,"x":-3.052,"y":0.451},
{"c":"D1RT","l":0.6,"x":3.096,"y":1.017},{"c":"D1RT","l":0.6,"x":3.0,"y":1.275},{"c":"D1RT","l":0.6,"x":2.878,"y":1.534},{"c":"D1RT","l":0.6,"x":2.75,"y":1.756},{"c":"D1RT","l":0.6,"x":2.632,"y":1.931},{"c":"D1RT","l":0.6,"x":2.577,"y":2.004},{"c":"D1RT","l":0.6,"x":2.524,"y":2.072},
{"c":"D1RB","l":0.6,"x":3.096,"y":-1.017},{"c":"D1RB","l":0.6,"x":3.0,"y":-1.275},{"c":"D1RB","l":0.6,"x":2.878,"y":-1.534},{"c":"D1RB","l":0.6,"x":2.75,"y":-1.756},{"c":"D1RB","l":0.6,"x":2.632,"y":-1.931},{"c":"D1RB","l":0.6,"x":2.577,"y":-2.004},{"c":"D1RB","l":0.6,"x":2.524,"y":-2.072},
{"c":"D1LT","l":-0.6,"x":-3.096,"y":1.017},{"c":"D1LT","l":-0.6,"x":-3.0,"y":1.275},{"c":"D1LT","l":-0.6,"x":-2.878,"y":1.534},{"c":"D1LT","l":-0.6,"x":-2.75,"y":1.756},{"c":"D1LT","l":-0.6,"x":-2.632,"y":1.931},{"c":"D1LT","l":-0.6,"x":-2.577,"y":2.004},{"c":"D1LT","l":-0.6,"x":-2.524,"y":2.072},
{"c":"D1LB","l":-0.6,"x":-3.096,"y":-1.017},{"c":"D1LB","l":-0.6,"x":-3.0,"y":-1.275},{"c":"D1LB","l":-0.6,"x":-2.878,"y":-1.534},{"c":"D1LB","l":-0.6,"x":-2.75,"y":-1.756},{"c":"D1LB","l":-0.6,"x":-2.632,"y":-1.931},{"c":"D1LB","l":-0.6,"x":-2.577,"y":-2.004},{"c":"D1LB","l":-0.6,"x":-2.524,"y":-2.072},
{"c":"D2RT","l":1.2,"x":3.082,"y":1.152},{"c":"D2RT","l":1.2,"x":3.0,"y":1.355},{"c":"D2RT","l":1.2,"x":2.878,"y":1.603},{"c":"D2RT","l":1.2,"x":2.759,"y":1.807},{"c":"D2RT","l":1.2,"x":2.65,"y":1.968},{"c":"D2RT","l":1.2,"x":2.624,"y":2.003},{"c":"D2RT","l":1.2,"x":2.55,"y":2.1},
{"c":"D2RB","l":1.2,"x":3.082,"y":-1.152},{"c":"D2RB","l":1.2,"x":3.0,"y":-1.355},{"c":"D2RB","l":1.2,"x":2.878,"y":-1.603},{"c":"D2RB","l":1.2,"x":2.759,"y":-1.807},{"c":"D2RB","l":1.2,"x":2.65,"y":-1.968},{"c":"D2RB","l":1.2,"x":2.624,"y":-2.003},{"c":"D2RB","l":1.2,"x":2.55,"y":-2.1},
{"c":"D2LT","l":-1.2,"x":-3.082,"y":1.152},{"c":"D2LT","l":-1.2,"x":-3.0,"y":1.355},{"c":"D2LT","l":-1.2,"x":-2.878,"y":1.603},{"c":"D2LT","l":-1.2,"x":-2.759,"y":1.807},{"c":"D2LT","l":-1.2,"x":-2.65,"y":1.968},{"c":"D2LT","l":-1.2,"x":-2.624,"y":2.003},{"c":"D2LT","l":-1.2,"x":-2.55,"y":2.1},
{"c":"D2LB","l":-1.2,"x":-3.082,"y":-1.152},{"c":"D2LB","l":-1.2,"x":-3.0,"y":-1.355},{"c":"D2LB","l":-1.2,"x":-2.878,"y":-1.603},{"c":"D2LB","l":-1.2,"x":-2.759,"y":-1.807},{"c":"D2LB","l":-1.2,"x":-2.65,"y":-1.968},{"c":"D2LB","l":-1.2,"x":-2.624,"y":-2.003},{"c":"D2LB","l":-1.2,"x":-2.55,"y":-2.1},
{"c":"D3RT","l":1.8,"x":3.056,"y":1.311},{"c":"D3RT","l":1.8,"x":3.0,"y":1.438},{"c":"D3RT","l":1.8,"x":2.936,"y":1.57},{"c":"D3RT","l":1.8,"x":2.863,"y":1.706},{"c":"D3RT","l":1.8,"x":2.762,"y":1.873},{"c":"D3RT","l":1.8,"x":2.669,"y":2.01},{"c":"D3RT","l":1.8,"x":2.586,"y":2.123},
{"c":"D3RB","l":1.8,"x":3.056,"y":-1.311},{"c":"D3RB","l":1.8,"x":3.0,"y":-1.438},{"c":"D3RB","l":1.8,"x":2.936,"y":-1.57},{"c":"D3RB","l":1.8,"x":2.863,"y":-1.706},{"c":"D3RB","l":1.8,"x":2.762,"y":-1.873},{"c":"D3RB","l":1.8,"x":2.669,"y":-2.01},{"c":"D3RB","l":1.8,"x":2.586,"y":-2.123},
{"c":"D3LT","l":-1.8,"x":-3.056,"y":1.311},{"c":"D3LT","l":-1.8,"x":-3.0,"y":1.438},{"c":"D3LT","l":-1.8,"x":-2.936,"y":1.57},{"c":"D3LT","l":-1.8,"x":-2.863,"y":1.706},{"c":"D3LT","l":-1.8,"x":-2.762,"y":1.873},{"c":"D3LT","l":-1.8,"x":-2.669,"y":2.01},{"c":"D3LT","l":-1.8,"x":-2.586,"y":2.123},
{"c":"D3LB","l":-1.8,"x":-3.056,"y":-1.311},{"c":"D3LB","l":-1.8,"x":-3.0,"y":-1.438},{"c":"D3LB","l":-1.8,"x":-2.936,"y":-1.57},{"c":"D3LB","l":-1.8,"x":-2.863,"y":-1.706},{"c":"D3LB","l":-1.8,"x":-2.762,"y":-1.873},{"c":"D3LB","l":-1.8,"x":-2.669,"y":-2.01},{"c":"D3LB","l":-1.8,"x":-2.586,"y":-2.123},
{"c":"D4RT","l":2.4,"x":3.04,"y":1.447},{"c":"D4RT","l":2.4,"x":3.0,"y":1.534},{"c":"D4RT","l":2.4,"x":2.951,"y":1.634},{"c":"D4RT","l":2.4,"x":2.852,"y":1.814},{"c":"D4RT","l":2.4,"x":2.767,"y":1.954},{"c":"D4RT","l":2.4,"x":2.736,"y":2.002},{"c":"D4RT","l":2.4,"x":2.693,"y":2.067},
{"c":"D4RB","l":2.4,"x":3.04,"y":-1.447},{"c":"D4RB","l":2.4,"x":3.0,"y":-1.534},{"c":"D4RB","l":2.4,"x":2.951,"y":-1.634},{"c":"D4RB","l":2.4,"x":2.852,"y":-1.814},{"c":"D4RB","l":2.4,"x":2.767,"y":-1.954},{"c":"D4RB","l":2.4,"x":2.736,"y":-2.002},{"c":"D4RB","l":2.4,"x":2.693,"y":-2.067},
{"c":"D4LT","l":-2.4,"x":-3.04,"y":1.447},{"c":"D4LT","l":-2.4,"x":-3.0,"y":1.534},{"c":"D4LT","l":-2.4,"x":-2.951,"y":1.634},{"c":"D4LT","l":-2.4,"x":-2.852,"y":1.814},{"c":"D4LT","l":-2.4,"x":-2.767,"y":1.954},{"c":"D4LT","l":-2.4,"x":-2.736,"y":2.002},{"c":"D4LT","l":-2.4,"x":-2.693,"y":2.067},
{"c":"D4LB","l":-2.4,"x":-3.04,"y":-1.447},{"c":"D4LB","l":-2.4,"x":-3.0,"y":-1.534},{"c":"D4LB","l":-2.4,"x":-2.951,"y":-1.634},{"c":"D4LB","l":-2.4,"x":-2.852,"y":-1.814},{"c":"D4LB","l":-2.4,"x":-2.767,"y":-1.954},{"c":"D4LB","l":-2.4,"x":-2.736,"y":-2.002},{"c":"D4LB","l":-2.4,"x":-2.693,"y":-2.067},
{"c":"D4bRT","l":2.4,"x":3.013,"y":1.89},{"c":"D4bRT","l":2.4,"x":2.921,"y":2.018},
{"c":"D4bRB","l":2.4,"x":3.013,"y":-1.89},{"c":"D4bRB","l":2.4,"x":2.921,"y":-2.018},
{"c":"D4bLT","l":-2.4,"x":-3.013,"y":1.89},{"c":"D4bLT","l":-2.4,"x":-2.921,"y":2.018},
{"c":"D4bLB","l":-2.4,"x":-3.013,"y":-1.89},{"c":"D4bLB","l":-2.4,"x":-2.921,"y":-2.018},
{"c":"D3bRT","l":1.8,"x":3.01,"y":1.968},{"c":"D3bRT","l":1.8,"x":2.98,"y":2.008},
{"c":"D3bRB","l":1.8,"x":3.01,"y":-1.968},{"c":"D3bRB","l":1.8,"x":2.98,"y":-2.008},
{"c":"D3bLT","l":-1.8,"x":-3.01,"y":1.968},{"c":"D3bLT","l":-1.8,"x":-2.98,"y":2.008},
{"c":"D3bLB","l":-1.8,"x":-3.01,"y":-1.968},{"c":"D3bLB","l":-1.8,"x":-2.98,"y":-2.008}
],
"g90":[{"t":"0.0","l":0,"x":0,"y":0.55},{"t":"0.0","l":0,"x":0,"y":-1.8}],
"gm43":[{"t":"0.0","l":0,"x":-1.318,"y":1.55}],
"gm56":[{"t":"−1.2","l":-1.2,"x":-1.377,"y":1.818},{"t":"−0.6","l":-0.6,"x":-2.148,"y":1.545},{"t":"1.8","l":1.8,"x":-2.59,"y":1.715},{"t":"−1.8","l":-1.8,"x":2.268,"y":-1.748},{"t":"−0.6","l":-0.6,"x":0.88,"y":-0.98},{"t":"1.2","l":1.2,"x":2.27,"y":-1.24}],
"gm72":[{"t":"−1.2","l":-1.2,"x":-2.425,"y":0.93},{"t":"1.2","l":1.2,"x":-1.26,"y":0.83}],
"g43":[{"t":"0.6","l":0.6,"x":1.133,"y":1.849},{"t":"0.0","l":0,"x":1.318,"y":1.55},{"t":"−0.6","l":-0.6,"x":-1.356,"y":-1.662}],
"g50":[{"t":"0.0","l":0,"x":-1.946,"y":-1.87}],
"g57":[{"t":"0.0","l":0,"x":2.237,"y":1.51},{"t":"0.6","l":0.6,"x":-0.88,"y":-0.98},{"t":"0.6","l":0.6,"x":-2.18,"y":-1.67}],
"g67":[{"t":"1.8","l":1.8,"x":1.925,"y":1.282},{"t":"−2.4","l":-2.4,"x":2.558,"y":1.398},{"t":"0.6","l":0.6,"x":2.395,"y":1.137},{"t":"−1.8","l":-1.8,"x":-1.88,"y":-1.37},{"t":"1.2","l":1.2,"x":-2.487,"y":-1.26}],
"g74":[{"t":"−1.2","l":-1.2,"x":1.26,"y":0.83},{"t":"1.8","l":1.8,"x":-2.63,"y":-1.04},{"t":"2.4","l":2.4,"x":-2.95,"y":-0.86}]
},
"encoding":{
"x":{"field":"x","type":"quantitative","scale":{"domain":[-3,3],"nice":false,"zero":false},
 "axis":{"title":"Error of array function layer","values":[-3,-2,-1,0,1,2,3],"format":"d","grid":false,"domainColor":"black","tickColor":"black","tickSize":5,"labelFont":"Liberation Serif","labelFontSize":19,"labelColor":"black","labelPadding":9,"titleFont":"Liberation Serif","titleFontSize":19,"titleFontWeight":"normal","titleColor":"black","titlePadding":9}},
"y":{"field":"y","type":"quantitative","scale":{"domain":[-2,2],"nice":false,"zero":false},
 "axis":{"title":"A mechanically reconfigurable sample distribution (%)","values":[-2,-1.5,-1,-0.5,0,0.5,1,1.5,2],"format":".1f","grid":false,"domainColor":"black","tickColor":"black","tickSize":5,"labelFont":"Liberation Serif","labelFontSize":19,"labelColor":"black","labelPadding":10,"titleFont":"Liberation Serif","titleFontSize":18,"titleFontWeight":"normal","titleColor":"black","titlePadding":15}}
},
"layer":[
{"data":{"name":"loops"},"mark":{"type":"line","interpolate":"catmull-rom","clip":true,"strokeWidth":1.7},
 "encoding":{"detail":{"field":"c"},"order":{"value":null},"color":{"field":"l","type":"nominal","legend":null,"scale":{"domain":[-2.4,-1.8,-1.2,-0.6,0,0.6,1.2,1.8,2.4],"range":["#482475","#414487","#355f8d","#2a788e","#21918c","#22a884","#44bf70","#7ad151","#bddf26"]}}}},
{"data":{"name":"paths"},"mark":{"type":"line","interpolate":"catmull-rom","clip":true,"strokeWidth":1.7},
 "encoding":{"detail":{"field":"c"},"order":{"value":null},"color":{"field":"l","type":"nominal","legend":null,"scale":{"domain":[-2.4,-1.8,-1.2,-0.6,0,0.6,1.2,1.8,2.4],"range":["#482475","#414487","#355f8d","#2a788e","#21918c","#22a884","#44bf70","#7ad151","#bddf26"]}}}},
{"data":{"name":"g90"},"encoding":{"text":{"field":"t"}},"layer":[
 {"mark":{"type":"text","angle":90,"font":"DejaVu Sans","fontSize":13.5,"fill":"white","stroke":"white","strokeWidth":5,"clip":true}},
 {"mark":{"type":"text","angle":90,"font":"DejaVu Sans","fontSize":13.5,"clip":true},"encoding":{"color":{"field":"l","type":"nominal","legend":null}}}]},
{"data":{"name":"gm43"},"encoding":{"text":{"field":"t"}},"layer":[
 {"mark":{"type":"text","angle":-43,"font":"DejaVu Sans","fontSize":13.5,"fill":"white","stroke":"white","strokeWidth":5,"clip":true}},
 {"mark":{"type":"text","angle":-43,"font":"DejaVu Sans","fontSize":13.5,"clip":true},"encoding":{"color":{"field":"l","type":"nominal","legend":null}}}]},
{"data":{"name":"gm56"},"encoding":{"text":{"field":"t"}},"layer":[
 {"mark":{"type":"text","angle":-56,"font":"DejaVu Sans","fontSize":13.5,"fill":"white","stroke":"white","strokeWidth":5,"clip":true}},
 {"mark":{"type":"text","angle":-56,"font":"DejaVu Sans","fontSize":13.5,"clip":true},"encoding":{"color":{"field":"l","type":"nominal","legend":null}}}]},
{"data":{"name":"gm72"},"encoding":{"text":{"field":"t"}},"layer":[
 {"mark":{"type":"text","angle":-72,"font":"DejaVu Sans","fontSize":13.5,"fill":"white","stroke":"white","strokeWidth":5,"clip":true}},
 {"mark":{"type":"text","angle":-72,"font":"DejaVu Sans","fontSize":13.5,"clip":true},"encoding":{"color":{"field":"l","type":"nominal","legend":null}}}]},
{"data":{"name":"g43"},"encoding":{"text":{"field":"t"}},"layer":[
 {"mark":{"type":"text","angle":43,"font":"DejaVu Sans","fontSize":13.5,"fill":"white","stroke":"white","strokeWidth":5,"clip":true}},
 {"mark":{"type":"text","angle":43,"font":"DejaVu Sans","fontSize":13.5,"clip":true},"encoding":{"color":{"field":"l","type":"nominal","legend":null}}}]},
{"data":{"name":"g50"},"encoding":{"text":{"field":"t"}},"layer":[
 {"mark":{"type":"text","angle":50,"font":"DejaVu Sans","fontSize":13.5,"fill":"white","stroke":"white","strokeWidth":5,"clip":true}},
 {"mark":{"type":"text","angle":50,"font":"DejaVu Sans","fontSize":13.5,"clip":true},"encoding":{"color":{"field":"l","type":"nominal","legend":null}}}]},
{"data":{"name":"g57"},"encoding":{"text":{"field":"t"}},"layer":[
 {"mark":{"type":"text","angle":57,"font":"DejaVu Sans","fontSize":13.5,"fill":"white","stroke":"white","strokeWidth":5,"clip":true}},
 {"mark":{"type":"text","angle":57,"font":"DejaVu Sans","fontSize":13.5,"clip":true},"encoding":{"color":{"field":"l","type":"nominal","legend":null}}}]},
{"data":{"name":"g67"},"encoding":{"text":{"field":"t"}},"layer":[
 {"mark":{"type":"text","angle":67,"font":"DejaVu Sans","fontSize":13.5,"fill":"white","stroke":"white","strokeWidth":5,"clip":true}},
 {"mark":{"type":"text","angle":67,"font":"DejaVu Sans","fontSize":13.5,"clip":true},"encoding":{"color":{"field":"l","type":"nominal","legend":null}}}]},
{"data":{"name":"g74"},"encoding":{"text":{"field":"t"}},"layer":[
 {"mark":{"type":"text","angle":74,"font":"DejaVu Sans","fontSize":13.5,"fill":"white","stroke":"white","strokeWidth":5,"clip":true}},
 {"mark":{"type":"text","angle":74,"font":"DejaVu Sans","fontSize":13.5,"clip":true},"encoding":{"color":{"field":"l","type":"nominal","legend":null}}}]}
]
}
